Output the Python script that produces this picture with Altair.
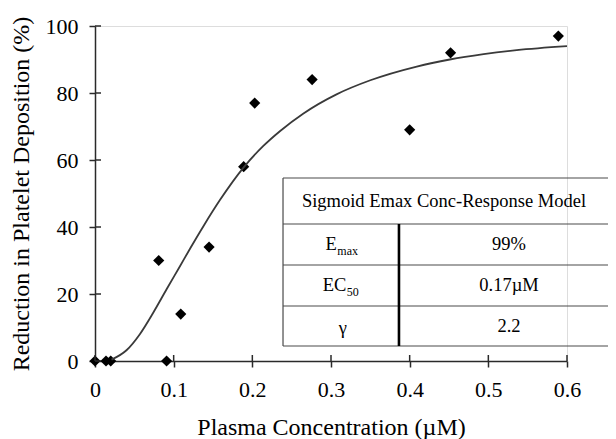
import altair as alt
import pandas as pd

# ---- data ----
conc = [0.0, 0.014, 0.02, 0.091, 0.081, 0.109, 0.145, 0.189, 0.203, 0.276, 0.400, 0.452, 0.589]
reduction = [0, 0, 0, 0, 30, 14, 34, 58, 77, 84, 69, 92, 97]

curve_x = [0.021, 0.040, 0.057, 0.074, 0.091, 0.108, 0.1215, 0.138, 0.159, 0.189, 0.214,
           0.235, 0.265, 0.307, 0.350, 0.409, 0.451, 0.494, 0.536, 0.600]
curve_y = [0.4, 3.2, 8.0, 14.4, 21.4, 28.3, 33.8, 40.3, 48.1, 57.8, 64.2,
           68.6, 73.9, 79.6, 83.8, 87.9, 90.0, 91.6, 92.8, 94.0]

x_ticks = [0, 0.1, 0.2, 0.3, 0.4, 0.5, 0.6]
y_ticks = [0, 20, 40, 60, 80, 100]

header = "Sigmoid Emax Conc-Response Model"
param_names = ["E", "EC", "γ"]
param_subs = ["max", "50", ""]
param_values = ["99%", "0.17µM", "2.2"]

# ---- layout ----
W, H = 472, 335
FONT = "Liberation Serif, Times New Roman, serif"
AX = "#2a2a2a"

xs = alt.Scale(domain=[0, 0.6], nice=False, zero=False)
ys = alt.Scale(domain=[0, 100], nice=False, zero=False)

pts = pd.DataFrame({"c": conc, "r": reduction})
crv = pd.DataFrame({"c": curve_x, "r": curve_y})

axis_common = dict(grid=False, tickSize=6, tickWidth=1.5, tickColor=AX, domainColor=AX,
                   domainWidth=1.5, labelFontSize=22, labelFont=FONT, labelColor="black",
                   labelFlush=False, labelOverlap=False, titleFont=FONT, titleFontSize=24,
                   titleFontWeight="normal", titleColor="black")

points = alt.Chart(pts).mark_point(shape="diamond", filled=True, color="black", size=125, opacity=1).encode(
    x=alt.X("c:Q", scale=xs, title="Plasma Concentration (µM)",
            axis=alt.Axis(values=x_ticks, format="~g", labelPadding=12, titlePadding=15, **axis_common)),
    y=alt.Y("r:Q", scale=ys, title="Reduction in Platelet Deposition (%)",
            axis=alt.Axis(values=y_ticks, labelPadding=11, titlePadding=12, **axis_common)),
)

curve = alt.Chart(crv).mark_line(color="#3a3a3a", strokeWidth=1.8, interpolate="monotone").encode(
    x=alt.X("c:Q", scale=xs), y=alt.Y("r:Q", scale=ys))

# inner halves of the crossing tick marks
yt = alt.Chart(pd.DataFrame({"v": y_ticks})).mark_rule(color=AX, strokeWidth=1.5).encode(
    y=alt.Y("v:Q", scale=ys), x=alt.value(0), x2=alt.value(6))
xt = alt.Chart(pd.DataFrame({"v": x_ticks})).mark_rule(color=AX, strokeWidth=1.5).encode(
    x=alt.X("v:Q", scale=xs), y=alt.value(H), y2=alt.value(H - 6))

# ---- inset table (data coordinates) ----
t_left, t_div, t_right = 0.239, 0.3864, 0.667
row_lines = [54.63, 40.9, 28.66, 16.42, 4.48]
row_mid = [34.78, 22.54, 10.45]

hl = alt.Chart(pd.DataFrame({"y": row_lines, "x": t_left, "x2": t_right})).mark_rule(
    color="#4a4a4a", strokeWidth=1.2).encode(
    y=alt.Y("y:Q", scale=ys), x=alt.X("x:Q", scale=xs), x2="x2:Q")
vl = alt.Chart(pd.DataFrame({"x": [t_left], "y": [row_lines[-1]], "y2": [row_lines[0]]})).mark_rule(
    color="#4a4a4a", strokeWidth=1.2).encode(
    x=alt.X("x:Q", scale=xs), y=alt.Y("y:Q", scale=ys), y2="y2:Q")
dv = alt.Chart(pd.DataFrame({"x": [t_div], "y": [row_lines[-1]], "y2": [row_lines[1]]})).mark_rule(
    color="black", strokeWidth=2.6).encode(
    x=alt.X("x:Q", scale=xs), y=alt.Y("y:Q", scale=ys), y2="y2:Q")

hdr = alt.Chart(pd.DataFrame({"t": [header], "x": [0.4436], "y": [47.76]})).mark_text(
    font=FONT, fontSize=18.5, color="black", align="center", baseline="middle").encode(
    x=alt.X("x:Q", scale=xs), y=alt.Y("y:Q", scale=ys), text="t:N")

name_x = [0.3074, 0.3195, 0.3151]
names = alt.Chart(pd.DataFrame({"t": param_names[:2], "x": name_x[:2], "y": row_mid[:2]})).mark_text(
    font=FONT, fontSize=18.5, color="black", align="right", baseline="middle").encode(
    x=alt.X("x:Q", scale=xs), y=alt.Y("y:Q", scale=ys), text="t:N")
gamma = alt.Chart(pd.DataFrame({"t": [param_names[2]], "x": [name_x[2]], "y": [row_mid[2]]})).mark_text(
    font=FONT, fontSize=18.5, color="black", align="center", baseline="middle", dy=2).encode(
    x=alt.X("x:Q", scale=xs), y=alt.Y("y:Q", scale=ys), text="t:N")
subs = alt.Chart(pd.DataFrame({"t": param_subs[:2], "x": name_x[:2], "y": row_mid[:2]})).mark_text(
    font=FONT, fontSize=12, color="black", align="left", baseline="middle", dx=0.5, dy=7).encode(
    x=alt.X("x:Q", scale=xs), y=alt.Y("y:Q", scale=ys), text="t:N")
vals = alt.Chart(pd.DataFrame({"t": param_values, "x": 0.5263, "y": row_mid})).mark_text(
    font=FONT, fontSize=18.5, color="black", align="center", baseline="middle").encode(
    x=alt.X("x:Q", scale=xs), y=alt.Y("y:Q", scale=ys), text="t:N")

chart = alt.layer(points, curve, yt, xt, hl, vl, dv, hdr, names, gamma, subs, vals).properties(
    width=W, height=H,
    autosize=alt.AutoSizeParams(type="none"),
    padding={"left": 87, "top": 18, "right": 41, "bottom": 78},
).configure_view(stroke=None).configure(background="white")

chart.save("out.html", embed_options={"renderer": "svg", "actions": False})
